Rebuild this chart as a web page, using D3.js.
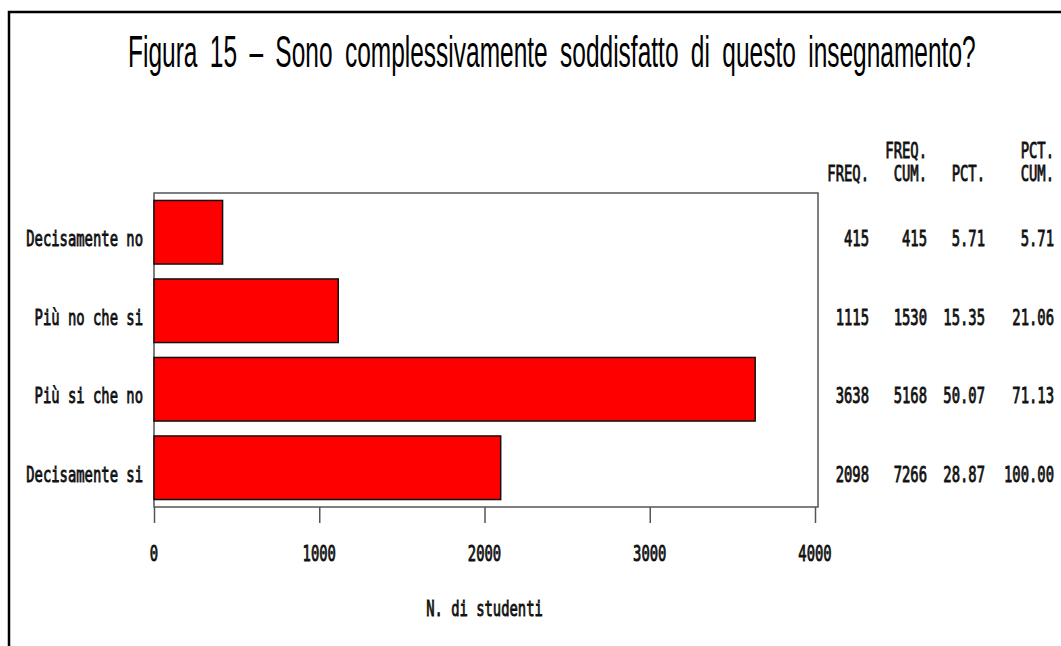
<!DOCTYPE html>
<html>
<head>
<meta charset="utf-8">
<script src="https://cdn.jsdelivr.net/npm/d3@7"></script>
<style>
  body { margin: 0; background: #fff; }
  svg { display: block; }
</style>
</head>
<body>
<div id="chart"></div>
<script>
// Dati
const categories = ["Decisamente no", "Più no che si", "Più si che no", "Decisamente si"];
const freq = [415, 1115, 3638, 2098];
const freqCum = [415, 1530, 5168, 7266];
const pct = ["5.71", "15.35", "50.07", "28.87"];
const pctCum = ["5.71", "21.06", "71.13", "100.00"];
const xTicks = [0, 1000, 2000, 3000, 4000];
const headerTop = ["", "FREQ.", "", "PCT."];
const headerBottom = ["FREQ.", "CUM.", "PCT.", "CUM."];

chart();

function chart() {
    const width = 1061;
    const height = 646;

    const svg = d3.select("#chart").append("svg")
        .attr("width", width)
        .attr("height", height);

    svg.append("rect")
        .attr("width", width)
        .attr("height", height)
        .attr("fill", "#fff");

    // cornice esterna (solo lato alto e sinistro visibili)
    svg.append("path")
        .attr("d", `M9,${height} V12 H${width}`)
        .attr("fill", "none")
        .attr("stroke", "#000")
        .attr("stroke-width", 2.5);

    // titolo: font stretto ottenuto scalando in orizzontale
    const title = svg.append("text")
        .style("font-family", "'Liberation Sans', Arial, sans-serif")
        .style("font-size", "44px")
        .style("word-spacing", "10px")
        .text("Figura 15 \u2013 Sono complessivamente soddisfatto di questo insegnamento?");
    const natural = title.node().getComputedTextLength();
    const titleScale = 848 / natural;
    title.attr("transform", `translate(128,67) scale(${titleScale},1)`);

    // area del grafico
    const box = { left: 154, top: 193, right: 818, bottom: 507 };

    const x = d3.scaleLinear()
        .domain([0, 4000])
        .range([box.left, 815]);

    const y = d3.scaleBand()
        .domain(categories)
        .range([box.top, box.bottom])
        .paddingInner(0.19)
        .paddingOuter(0.095);

    // testo "SAS" monospaziato e stretto
    const monoSize = 22;
    const squeeze = 0.63;
    function mono(parent, px, py, str, anchor) {
        return parent.append("text")
            .attr("transform", `translate(${px},${py}) scale(${squeeze},1)`)
            .attr("text-anchor", anchor)
            .style("font-family", "'DejaVu Sans Mono', monospace")
            .style("font-size", `${monoSize}px`)
            .attr("fill", "#111")
            .attr("stroke", "#111")
            .attr("stroke-width", 0.9)
            .text(str);
    }

    svg.append("rect")
        .attr("x", box.left)
        .attr("y", box.top)
        .attr("width", box.right - box.left)
        .attr("height", box.bottom - box.top)
        .attr("fill", "none")
        .attr("stroke", "#555")
        .attr("stroke-width", 1.5);

    // barre
    svg.append("g")
        .selectAll("rect")
        .data(categories)
        .join("rect")
            .attr("x", x(0))
            .attr("y", d => y(d))
            .attr("width", (d, i) => x(freq[i]) - x(0))
            .attr("height", y.bandwidth())
            .attr("fill", "#ff0000")
            .attr("stroke", "#111")
            .attr("stroke-width", 1.5);

    // etichette categorie
    const labels = svg.append("g");
    categories.forEach(c => {
        mono(labels, 143, y(c) + y.bandwidth() / 2 + 14, c, "end");
    });

    // asse x
    const axisG = svg.append("g")
        .attr("transform", `translate(0,${box.bottom})`)
        .call(d3.axisBottom(x).tickValues(xTicks).tickSize(16).tickFormat(""));
    axisG.select(".domain").remove();
    axisG.selectAll(".tick line").attr("stroke", "#555").attr("stroke-width", 1.5);

    const tickLabels = svg.append("g");
    xTicks.forEach(t => {
        mono(tickLabels, x(t), 561, d3.format("d")(t), "middle");
    });

    mono(svg, (x(0) + x(4000)) / 2, 616, "N. di studenti", "middle");

    // tabella a destra
    const colRight = [869, 927, 985, 1054];
    const table = svg.append("g");
    headerTop.forEach((h, j) => { if (h) mono(table, colRight[j], 158, h, "end"); });
    headerBottom.forEach((h, j) => mono(table, colRight[j], 181, h, "end"));

    categories.forEach((c, i) => {
        const yy = y(c) + y.bandwidth() / 2 + 14;
        [freq[i], freqCum[i], pct[i], pctCum[i]].forEach((v, j) => {
            mono(table, colRight[j], yy, String(v), "end");
        });
    });
}
</script>
</body>
</html>
